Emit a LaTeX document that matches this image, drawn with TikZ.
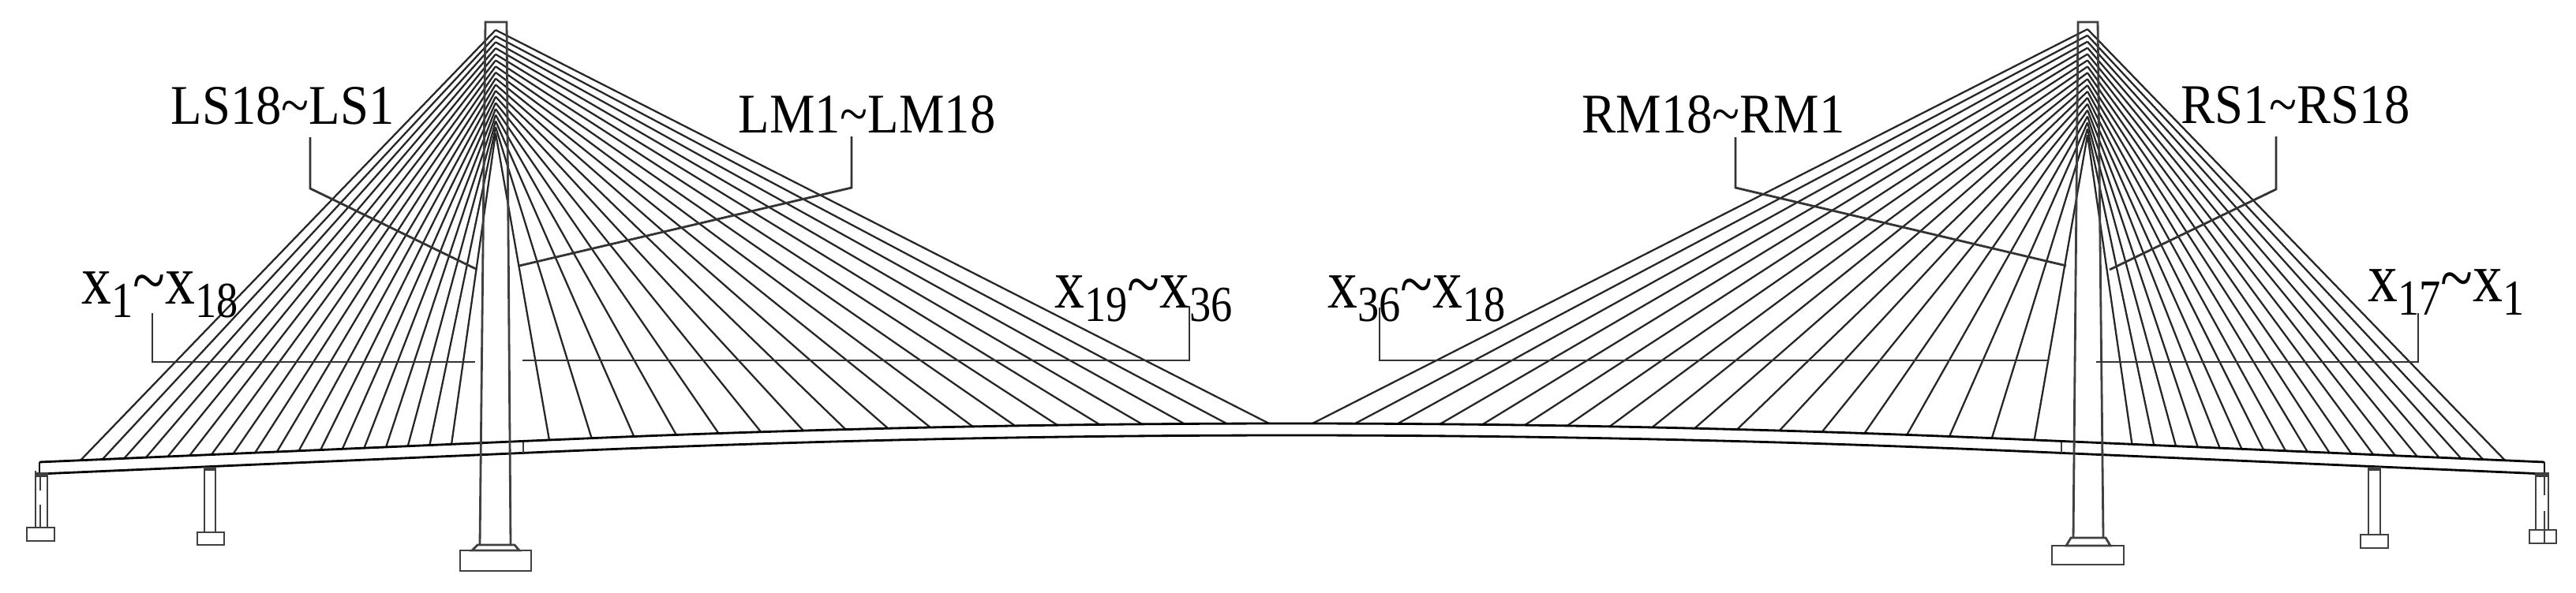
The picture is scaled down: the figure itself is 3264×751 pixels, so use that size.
\documentclass[tikz,border=0pt]{standalone}
\usepackage{fontspec}
\setmainfont{Liberation Serif}
\newcommand{\xx}[1]{{\fontsize{25.3}{25.3}\selectfont x}\raisebox{-0.17cm}{\fontsize{18.2}{18.2}\selectfont #1}}
\newcommand{\tld}{{\fontsize{25.3}{25.3}\selectfont\textasciitilde}}
\tikzset{
  declare function={decky(\x)=(abs(\x-1637)<942)?(537+0.237*((\x-1637)/100)^2):(558+0.0434*(abs(\x-1637)-942));},
  cable/.style={line width=0.65pt,black!85},
  leader/.style={line width=0.8pt,black!80},
  deck/.style={line width=0.8pt},
  pier/.style={line width=0.8pt,black!75},
  cablelabel/.style={inner sep=0pt,anchor=base west,xscale=0.91,transform shape,font=\fontsize{20.2}{20.2}\selectfont},
  rangelabel/.style={inner sep=0pt,anchor=base west,xscale=0.85,transform shape}
}
\begin{document}
\begin{tikzpicture}[x=0.01cm,y=-0.01cm]
  \useasboundingbox (0,0) rectangle (3264,751);
  \foreach \i in {0,...,17} {
    \draw[cable] (628,{38+7.7*\i}) -- ({102+27.65*\i},{decky(102+27.65*\i)});
    \draw[cable] (628,{38+7.7*\i}) -- ({1608-53.65*\i},{decky(1608-53.65*\i)});
    \draw[cable] (2645,{37+7.9*\i}) -- ({1663+53.8*\i},{decky(1663+53.8*\i)});
    \draw[cable] (2645,{37+7.9*\i}) -- ({3174-27.8*\i},{decky(3174-27.8*\i)});
  }
  \draw[deck] plot[domain=50:3224,samples=90] (\x,{decky(\x)});
  \draw[deck] plot[domain=50:3224,samples=90] (\x,{decky(\x)+15});
  \draw[deck] (50,586) -- (50,602);
  \draw[deck] (3224,586) -- (3224,602);
  \draw[pier] (663,561) -- (663,575);
  \draw[pier] (2612,561) -- (2612,575);
  \draw[pier] (608,691) -- (615,28) -- (642,28) -- (647,691);
  \draw[pier] (605,691) -- (652,691) -- (658,698) -- (598,698) -- cycle;
  \draw[pier] (583,698) rectangle (673,724);
  \draw[pier] (2627,682) -- (2633,28) -- (2658,28) -- (2665,682);
  \draw[pier] (2624,682) -- (2668,682) -- (2674,692) -- (2618,692) -- cycle;
  \draw[pier] (2600,692) rectangle (2691,716);
  \draw[pier,fill=black!75] (45,600) rectangle (60,604);
  \draw[pier] (45,597) -- (45,669) (60,604) -- (60,669);
  \draw[pier] (51,604) -- (51,622) (51,640) -- (51,669);
  \draw[pier] (34,669) rectangle (69,686);
  \draw[pier,fill=black!75] (259,593) rectangle (273,596);
  \draw[pier] (259,596) -- (259,675) (273,596) -- (273,675);
  \draw[pier] (250,675) rectangle (284,691);
  \draw[pier,fill=black!75] (3001,593) rectangle (3016,596);
  \draw[pier] (3001,596) -- (3001,678) (3016,596) -- (3016,678);
  \draw[pier] (2991,678) rectangle (3026,695);
  \draw[pier,fill=black!75] (3213,600) rectangle (3229,604);
  \draw[pier] (3213,604) -- (3213,672) (3229,602) -- (3229,672);
  \draw[pier] (3224,604) -- (3224,628) (3224,648) -- (3224,689);
  \draw[pier] (3205,672) rectangle (3239,689);
  \node[cablelabel] (LS) at (216,157) {LS18\textasciitilde LS1};
  \node[cablelabel] (LM) at (935,168) {LM1\textasciitilde LM18};
  \node[cablelabel] (RM) at (2004,168) {RM18\textasciitilde RM1};
  \node[cablelabel] (RS) at (2763,156) {RS1\textasciitilde RS18};
  \node[rangelabel] (XLS) at (103,385) {\xx{1}\tld\xx{18}};
  \node[rangelabel] (XLM) at (1336,390) {\xx{19}\tld\xx{36}};
  \node[rangelabel] (XRM) at (1682,390) {\xx{36}\tld\xx{18}};
  \node[rangelabel] (XRS) at (3000,382) {\xx{17}\tld\xx{1}};
  \begin{scope}[leader]
    \draw (393,174) -- (393,239) -- (603,341);
    \draw (1079,173) -- (1079,238) -- (658,337);
    \draw (2199,174) -- (2199,238) -- (2618,337);
    \draw (2884,173) -- (2884,240) -- (2673,342);
    \draw (193,397) -- (193,459) -- (602,459);
    \draw (1507,388) -- (1507,457) -- (662,457);
    \draw (1748,390) -- (1748,457) -- (2595,457);
    \draw (3064,397) -- (3064,459) -- (2656,459);
  \end{scope}
\end{tikzpicture}
\end{document}
